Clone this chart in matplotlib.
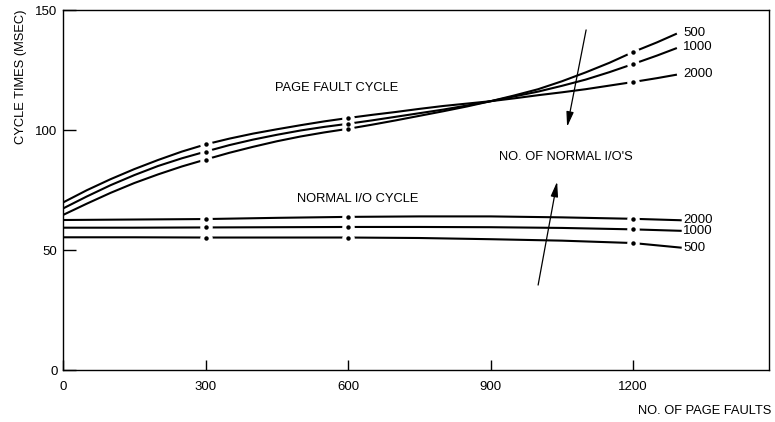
"""Page fault cycle vs normal I/O cycle times (recreated figure)."""
import matplotlib
matplotlib.use("Agg")
import matplotlib.pyplot as plt

plt.rcParams["font.family"] = ["Liberation Sans", "DejaVu Sans"]

# ── data ────────────────────────────────────────────────────────────────────
PF_X = [0, 50, 100, 150, 200, 250, 300, 350, 400, 450, 500, 550, 600, 650,
        700, 750, 800, 850, 900, 950, 1000, 1050, 1100, 1150, 1200, 1250, 1290]
PF_2000 = [69.8, 74.9, 79.5, 83.7, 87.5, 91.0, 94.0, 96.4, 98.5, 100.3,
           102.0, 103.6, 105.0, 106.3, 107.5, 108.8, 110.0, 111.0, 112.0,
           113.2, 114.5, 115.7, 117.0, 118.5, 120.0, 121.6, 123.0]
PF_1000 = [67.3, 72.3, 77.0, 81.2, 85.0, 88.2, 91.0, 93.7, 96.0, 98.0,
           99.8, 101.3, 102.6, 104.0, 105.5, 107.0, 108.5, 110.2, 112.0,
           114.0, 116.0, 118.4, 121.0, 124.1, 127.5, 131.0, 134.0]
PF_500 = [64.6, 69.3, 73.8, 77.9, 81.5, 84.8, 87.7, 90.5, 93.0, 95.3,
          97.3, 99.0, 100.5, 102.2, 104.0, 105.9, 107.8, 109.8, 112.0,
          114.4, 117.0, 120.3, 124.0, 128.0, 132.5, 136.5, 140.0]

IO_X = [0, 150, 300, 450, 600, 750, 900, 1050, 1200, 1300]
IO_2000 = [62.5, 62.7, 62.9, 63.4, 63.8, 64.0, 64.0, 63.6, 63.0, 62.4]
IO_1000 = [59.3, 59.3, 59.4, 59.5, 59.6, 59.6, 59.5, 59.2, 58.6, 58.0]
IO_500 = [55.3, 55.3, 55.2, 55.2, 55.2, 55.0, 54.5, 53.9, 52.9, 51.0]

DOT_X = [300, 600, 1200]
PF_LABELS = ["500", "1000", "2000"]
IO_LABELS = ["2000", "1000", "500"]
X_TICKS = [0, 300, 600, 900, 1200]
Y_TICKS = [0, 50, 100, 150]

fig = plt.figure(figsize=(7.75, 4.22), dpi=100)
ax = fig.add_axes([0.0813, 0.1232, 0.911, 0.8531])

series = [(PF_X, PF_2000), (PF_X, PF_1000), (PF_X, PF_500),
          (IO_X, IO_2000), (IO_X, IO_1000), (IO_X, IO_500)]
for xs, ys in series:
    ax.plot(xs, ys, color="black", lw=1.5, zorder=2)

# dots sit in small gaps of the curves
for xs, ys in series:
    pts = [(x, y) for x, y in zip(xs, ys) if x in DOT_X]
    px = [p[0] for p in pts]
    py = [p[1] for p in pts]
    ax.plot(px, py, "o", color="white", ms=9, mec="none", zorder=3)
    ax.plot(px, py, "o", color="black", ms=3.2, mec="none", zorder=4)

# end labels
for ys, lab in zip([PF_500, PF_1000, PF_2000], PF_LABELS):
    ax.text(1305, ys[-1] + 0.5, lab, fontsize=9.5, va="center", ha="left")
for ys, lab in zip([IO_2000, IO_1000, IO_500], IO_LABELS):
    ax.text(1305, ys[-1], lab, fontsize=9.5, va="center", ha="left")

ax.text(575, 117.5, "PAGE FAULT CYCLE", fontsize=9.3, ha="center", va="center")
ax.text(620, 71.3, "NORMAL I/O CYCLE", fontsize=9.3, ha="center", va="center")
ax.text(1059, 88.8, "NO. OF NORMAL I/O'S", fontsize=9.3, ha="center", va="center")

arrow = dict(arrowstyle="-|>,head_length=0.9,head_width=0.22",
             color="black", lw=0.9, shrinkA=0, shrinkB=0)
ax.annotate("", xy=(1061, 101.3), xytext=(1101, 141.7), arrowprops=arrow)
ax.annotate("", xy=(1040, 78.5), xytext=(1000, 35.4), arrowprops=arrow)

ax.set_xlim(0, 1486)
ax.set_ylim(0, 150)
ax.set_xticks(X_TICKS)
ax.set_yticks(Y_TICKS)
ax.tick_params(axis="both", direction="in", labelsize=9.5, width=1, color="black")
ax.tick_params(axis="y", length=9, pad=4)
ax.tick_params(axis="x", length=7, pad=8)
for s in ax.spines.values():
    s.set_linewidth(1.0)

ax.text(-0.06, 0.814, "CYCLE TIMES (MSEC)", transform=ax.transAxes,
        rotation=90, fontsize=9.3, ha="center", va="center")
ax.text(1.003, -0.114, "NO. OF PAGE FAULTS", transform=ax.transAxes,
        fontsize=9.3, ha="right", va="center")

fig.savefig("out.png", dpi=100)
